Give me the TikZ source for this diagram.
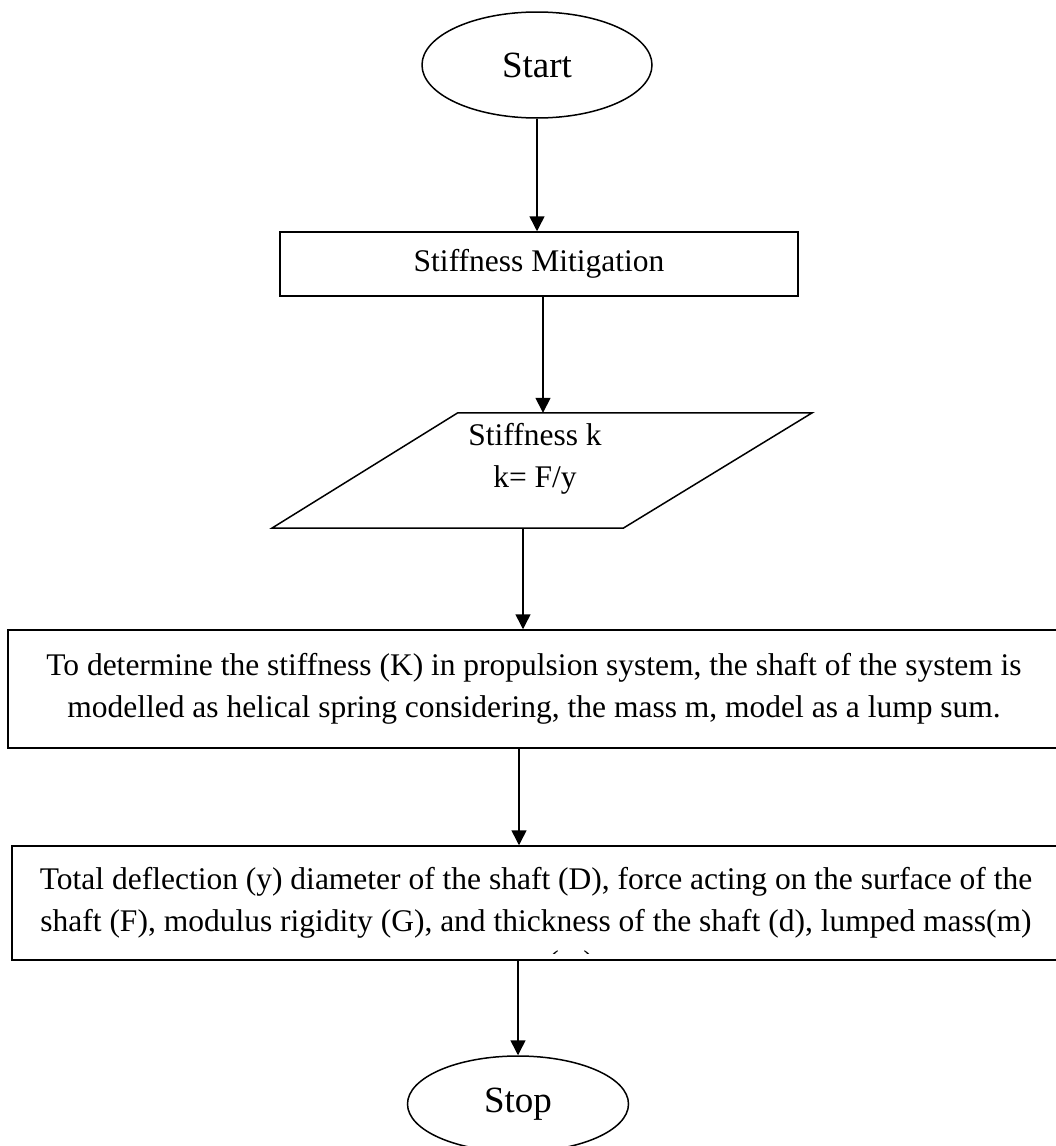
\documentclass[tikz,border=0pt]{standalone}
\usepackage{fontspec}
\setmainfont{Liberation Serif}
\usetikzlibrary{calc}
\usetikzlibrary{arrows.meta}
\usetikzlibrary{shapes.geometric}
\tikzset{%
  myedge/.style={-{Triangle[width=15pt,length=15pt]}, line width=1.5pt},
  myterm/.style={ellipse, draw=black, line width=1.5pt, inner sep=0pt, font=\fontsize{37}{44}\selectfont},
  mybox/.style={rectangle, draw=black, line width=1.5pt, inner sep=0pt, align=center, font=\fontsize{31.5}{42}\selectfont},
  mytext/.style={inner sep=0pt, align=center, font=\fontsize{31.5}{42}\selectfont}
}

\begin{document}
\begin{tikzpicture}[x=1pt, y=-1pt]
\useasboundingbox (0,0) rectangle (1056,1146);

\node [myterm, minimum width=230pt, minimum height=106pt] (start) at (537,65) {Start};
\node [mybox, minimum width=518pt, minimum height=64pt] (stiff) at (539,264) {Stiffness Mitigation};

% Parallelogramm
\node [inner sep=0pt, minimum width=540pt, minimum height=115pt] (kin) at (542,470.5) {};
\draw [line width=1.5pt] (kin.south west) -- ($(kin.north west)+(186,0)$) -- (kin.north east) -- ($(kin.south east)+(-189,0)$) -- cycle;
\node [mytext] (kintxt) at (535,459) {Stiffness k\\k= F/y};

\node [mybox, minimum width=1052pt, minimum height=118pt] (model) at (534,689)
  {To determine the stiffness (K) in propulsion system, the shaft of the system is\\
   modelled as helical spring considering, the mass m, model as a lump sum.};
\node [mybox, minimum width=1048pt, minimum height=114pt] (defl) at (536,903)
  {Total deflection (y) diameter of the shaft (D), force acting on the surface of the\\
   shaft (F), modulus rigidity (G), and thickness of the shaft (d), lumped mass(m)};
\begin{scope}
  \clip (12,940) rectangle (1060,953);
  \node [mytext, anchor=base] (lumpm) at (571,972) {(m)};
\end{scope}

\node [myterm, minimum width=221pt, minimum height=96pt] (stop) at (518,1104) {Stop};

% Pfeile
\draw [myedge] (start.south) -- (start.south |- stiff.north);
\draw [myedge] ([xshift=4pt]stiff.south) -- ([xshift=4pt]stiff.south |- kin.north);
\draw [myedge] ([xshift=-19pt]kin.south) -- ([xshift=-19pt]kin.south |- model.north);
\draw [myedge] ([xshift=-15pt]model.south) -- ([xshift=-15pt]model.south |- defl.north);
\draw [myedge] (stop.north |- defl.south) -- (stop.north);
\end{tikzpicture}
\end{document}
